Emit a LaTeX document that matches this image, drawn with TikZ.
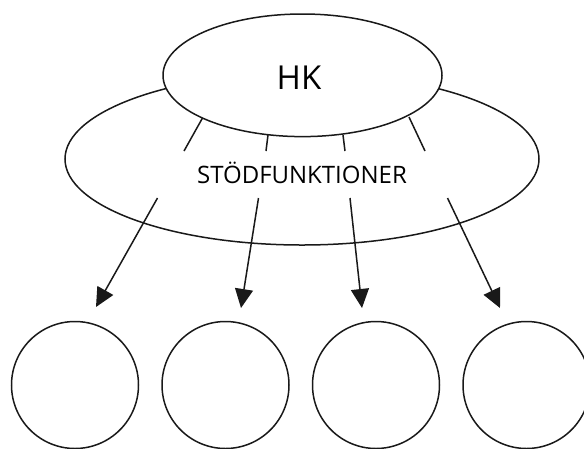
\documentclass[tikz,border=0pt]{standalone}
\usepackage{fontspec}
\setmainfont{Open Sans}
\usetikzlibrary{shapes.geometric,arrows.meta}
\begin{document}
\begin{tikzpicture}[x=1pt,y=-1pt,
  line/.style={line width=1.5pt,draw=black!90},
  oval/.style={ellipse,line,inner sep=0pt,fill=white},
  unit/.style={circle,line,inner sep=0pt,minimum size=127pt},
  arr/.style={line,-{Triangle[length=19pt,width=18pt]}},
  lbl/.style={inner sep=0pt,anchor=base,text=black}]
\useasboundingbox (0,0) rectangle (584,448);
\fill[white] (0,0) rectangle (584,448);
% support functions ellipse
\node[oval,minimum width=474pt,minimum height=172pt] (sup) at (302,159) {};
\node[lbl,font=\fontsize{24}{24}\selectfont] (sf) at (302,183.3) {STÖDFUNKTIONER};
% head office
\node[oval,minimum width=279pt,minimum height=122.6pt] (hk) at (302.5,75.3) {};
\node[lbl,font=\fontsize{33}{33}\selectfont] (hkt) at (299,89.3) {HK};
% units
\node[unit] (u1) at (75,385) {};
\node[unit] (u2) at (225.5,385) {};
\node[unit] (u3) at (376,385) {};
\node[unit] (u4) at (526.5,385) {};
% arrow coordinates
\coordinate (a1) at (202.5,118); \coordinate (b1) at (184,151);
\coordinate (c1) at (157.5,198); \coordinate (d1) at (96,307);
\coordinate (a2) at (268,135);   \coordinate (b2) at (266,151);
\coordinate (c2) at (258.5,198); \coordinate (d2) at (241,308);
\coordinate (a3) at (343,135);   \coordinate (b3) at (345,151);
\coordinate (c3) at (350,198);   \coordinate (d3) at (362,308);
\coordinate (a4) at (409,117);   \coordinate (b4) at (425,151);
\coordinate (c4) at (447.5,198); \coordinate (d4) at (500,308);
\foreach \i in {1,2,3,4}{
  \draw[line] (a\i) -- (b\i);
  \draw[arr] (c\i) -- (d\i);
}
\end{tikzpicture}
\end{document}
